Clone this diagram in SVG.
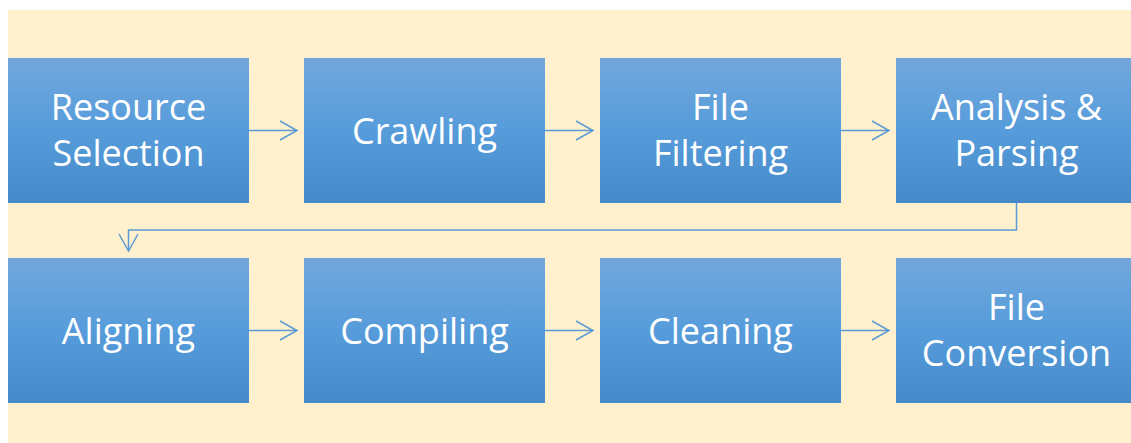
<svg xmlns="http://www.w3.org/2000/svg" width="1131" height="443" viewBox="0 0 1131 443">
  <defs>
    <linearGradient id="boxFill" x1="0" y1="0" x2="0" y2="1">
      <stop offset="0" stop-color="#72A7DC"/>
      <stop offset="0.5" stop-color="#569CDB"/>
      <stop offset="1" stop-color="#4689C8"/>
    </linearGradient>
    <marker id="chevron" markerUnits="userSpaceOnUse" markerWidth="22" markerHeight="24" refX="18" refY="11" orient="auto">
      <path d="M1,1.5 L18,11 L1,20.5" fill="none" stroke="#5B9BD5" stroke-width="1.5"/>
    </marker>
    <style>
      .box { fill: url(#boxFill); }
      .label { font-family: "Open Sans", "Noto Sans", sans-serif; font-size: 36px; fill: #FFFFFF; text-anchor: middle; }
      .link { fill: none; stroke: #5B9BD5; stroke-width: 1.5; marker-end: url(#chevron); }
    </style>
  </defs>

  <!-- page background -->
  <rect x="0" y="0" width="1131" height="443" fill="#FFFFFF"/>
  <rect x="8" y="10" width="1123" height="433" fill="#FFF0CE"/>

  <!-- connectors -->
  <g id="connectors">
    <path class="link" d="M249,130.5 H297"/>
    <path class="link" d="M545,130.5 H593"/>
    <path class="link" d="M841,130.5 H889"/>
    <path class="link" d="M1016.5,203 V230 H128.5 V251"/>
    <path class="link" d="M249,330.5 H297"/>
    <path class="link" d="M545,330.5 H593"/>
    <path class="link" d="M841,330.5 H889"/>
  </g>

  <!-- row 1 -->
  <g id="resource-selection">
    <rect class="box" x="8" y="58" width="241" height="145"/>
    <text class="label" x="128.5" y="120">Resource</text>
    <text class="label" x="128.5" y="166">Selection</text>
  </g>
  <g id="crawling">
    <rect class="box" x="304" y="58" width="241" height="145"/>
    <text class="label" x="424.5" y="143.5">Crawling</text>
  </g>
  <g id="file-filtering">
    <rect class="box" x="600" y="58" width="241" height="145"/>
    <text class="label" x="720.5" y="120">File</text>
    <text class="label" x="720.5" y="166">Filtering</text>
  </g>
  <g id="analysis-parsing">
    <rect class="box" x="896" y="58" width="241" height="145"/>
    <text class="label" x="1016.5" y="120">Analysis &amp;</text>
    <text class="label" x="1016.5" y="166">Parsing</text>
  </g>

  <!-- row 2 -->
  <g id="aligning">
    <rect class="box" x="8" y="258" width="241" height="145"/>
    <text class="label" x="128.5" y="343.5">Aligning</text>
  </g>
  <g id="compiling">
    <rect class="box" x="304" y="258" width="241" height="145"/>
    <text class="label" x="424.5" y="343.5">Compiling</text>
  </g>
  <g id="cleaning">
    <rect class="box" x="600" y="258" width="241" height="145"/>
    <text class="label" x="720.5" y="343.5">Cleaning</text>
  </g>
  <g id="file-conversion">
    <rect class="box" x="896" y="258" width="241" height="145"/>
    <text class="label" x="1016.5" y="320">File</text>
    <text class="label" x="1016.5" y="366">Conversion</text>
  </g>
</svg>
